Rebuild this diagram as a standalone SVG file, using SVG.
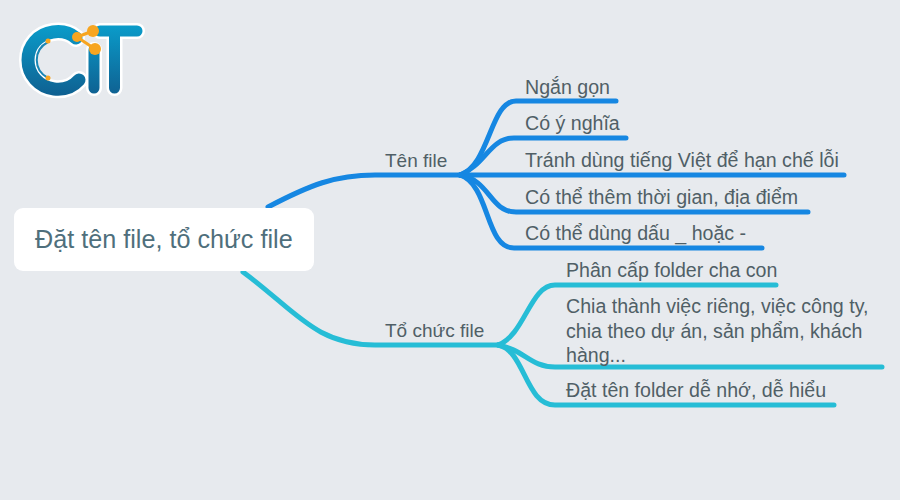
<svg xmlns="http://www.w3.org/2000/svg" width="900" height="500" viewBox="0 0 900 500">
<defs>
<linearGradient id="logoGrad" gradientUnits="userSpaceOnUse" x1="0" y1="25" x2="0" y2="97"><stop offset="0" stop-color="#0a9cca"/><stop offset="1" stop-color="#0f5f90"/></linearGradient>
<filter id="soft" x="-5%" y="-5%" width="110%" height="110%"><feGaussianBlur stdDeviation="0.35"/></filter>
</defs>
<style>
text{font-family:"Liberation Sans",Arial,sans-serif;fill:#505f66}
.t{font-size:19.6px}
.h{font-size:19px}
.blue,.cyan{fill:none;stroke-width:5;stroke-linecap:round;stroke-linejoin:round}
.blue{stroke:#1587e2}
.cyan{stroke:#28bdd6}
</style>
<rect width="900" height="500" fill="#e7eaee"/>
<g id="logo">
<g fill="none" stroke-linecap="round">
<path d="M76 38C69 32 60 31 53 32C38 34 28 46 28 60C28 75 39 87 54 89C63 90 72 88 79 80" stroke="#fff" stroke-width="18"/>
<path d="M94 50V88M100 31H137M114.500 31V88" stroke="#fff" stroke-width="16"/>
<path d="M76 38C69 32 60 31 53 32C38 34 28 46 28 60C28 75 39 87 54 89C63 90 72 88 79 80" stroke="url(#logoGrad)" stroke-width="13"/>
<path d="M94 50V88M100 31H137M114.500 31V88" stroke="url(#logoGrad)" stroke-width="11"/>
<path d="M48 42C33 50 33 70 48 78" stroke="#1a86b4" stroke-width="2"/>
<path d="M77 37L93 31M77 37L95 49" stroke="#f7a520" stroke-width="3"/>
</g>
<g fill="#f7a520"><circle cx="77" cy="37" r="5"/><circle cx="93" cy="31" r="6"/><circle cx="95" cy="49" r="6"/><circle cx="48" cy="41" r="2.500"/><circle cx="48" cy="78" r="2.500"/></g>
</g>
<g id="connectors" filter="url(#soft)">
<path class="blue" d="M268 207C310 185 335 175 375 175H460"/>
<path class="blue" d="M460 175C490 165 490 101 516 101H616"/>
<path class="blue" d="M460 175C485 165 490 138 514 138H626"/>
<path class="blue" d="M460 175H844"/>
<path class="blue" d="M460 175C490 180 490 212 516 212H808"/>
<path class="blue" d="M460 175C490 185 485 248 514 248H762"/>
<path class="cyan" d="M243 272C295 310 315 345 375 345H498"/>
<path class="cyan" d="M498 345C525 335 530 285 555 285H776"/>
<path class="cyan" d="M498 345C525 350 530 367 555 367H882"/>
<path class="cyan" d="M498 345C525 350 525 405 555 405H834"/>
</g>
<g id="root"><rect x="14" y="208" width="300" height="63" rx="9" fill="#fff"/><text x="35" y="248" style="font-size:25.200px;fill:#4f6f7c">Đặt tên file, tổ chức file</text></g>
<g id="ten-file"><text class="t h" x="385" y="167">Tên file</text></g>
<g id="to-chuc-file"><text class="t h" x="385" y="337">Tổ chức file</text></g>
<g id="n1"><text class="t" x="525" y="94">Ngắn gọn</text></g>
<g id="n2"><text class="t" x="525" y="130">Có ý nghĩa</text></g>
<g id="n3"><text class="t" x="525" y="167">Tránh dùng tiếng Việt để hạn chế lỗi</text></g>
<g id="n4"><text class="t" x="525" y="204">Có thể thêm thời gian, địa điểm</text></g>
<g id="n5"><text class="t" x="525" y="240">Có thể dùng dấu _ hoặc -</text></g>
<g id="n6"><text class="t" x="566" y="277">Phân cấp folder cha con</text></g>
<g id="n7"><text class="t" x="566" y="313">Chia thành việc riêng, việc công ty,</text><text class="t" x="566" y="338">chia theo dự án, sản phẩm, khách</text><text class="t" x="566" y="362">hàng...</text></g>
<g id="n8"><text class="t" x="566" y="397">Đặt tên folder dễ nhớ, dễ hiểu</text></g>
</svg>
